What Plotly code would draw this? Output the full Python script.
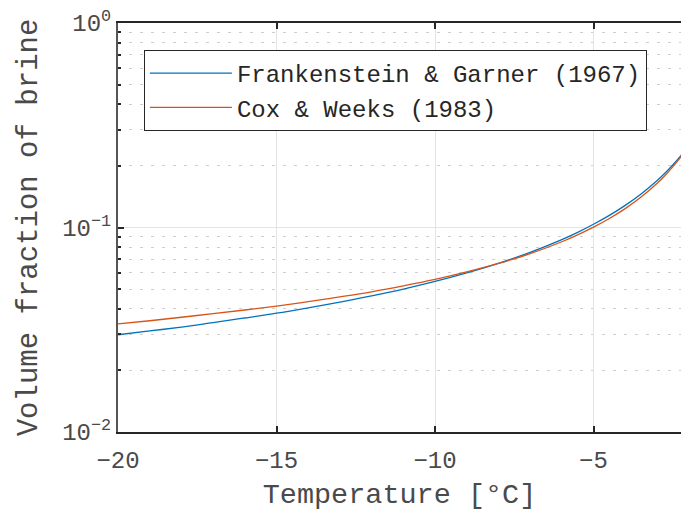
import plotly.graph_objects as go

# Temperature [°C]
temp = [-20, -19, -18, -17, -16, -15, -14, -13, -12, -11, -10, -9, -8, -7, -6,
        -5.5, -5, -4.5, -4, -3.5, -3, -2.75, -2.5, -2.25, -2]
# Frankenstein & Garner (1967)
fg = [0.0299, 0.0312, 0.0326, 0.0343, 0.0361, 0.0381, 0.0405, 0.0432, 0.0463,
      0.0500, 0.0545, 0.0600, 0.0668, 0.0756, 0.0873, 0.0947, 0.1037, 0.1146,
      0.1283, 0.1459, 0.1693, 0.1842, 0.2021, 0.2239, 0.2512]
# Cox & Weeks (1983)
cw = [0.0338, 0.0350, 0.0364, 0.0379, 0.0395, 0.0413, 0.0434, 0.0458, 0.0485,
      0.0518, 0.0557, 0.0606, 0.0667, 0.0745, 0.0852, 0.0921, 0.1004, 0.1107,
      0.1237, 0.1408, 0.1641, 0.1792, 0.1978, 0.2209, 0.2507]

xticks = [-20, -15, -10, -5]
xticklabels = ["−20", "−15", "−10", "−5"]
yticks = [0.01, 0.1, 1]
yticklabels = ["10<sup>−2</sup>", "10<sup>−1</sup>", "10<sup>0</sup>"]
yminor = [m * 10 ** e for e in (-2, -1) for m in range(2, 10)]

FONT = "Liberation Mono, Courier New, monospace"
DARK = "#262626"
TXT = "#4a4a4a"

fig = go.Figure()
fig.add_trace(go.Scatter(x=temp, y=fg, mode="lines", line=dict(color="#0072BD", width=1.3, shape="spline"),
                         name="Frankenstein & Garner (1967)"))
fig.add_trace(go.Scatter(x=temp, y=cw, mode="lines", line=dict(color="#D95319", width=1.3, shape="spline"),
                         name="Cox & Weeks (1983)"))

fig.update_layout(
    width=681, height=512,
    margin=dict(l=118, r=0, t=23, b=80),
    paper_bgcolor="white", plot_bgcolor="white",
    font=dict(family=FONT, color=DARK, size=24),
    showlegend=True,
    legend=dict(x=0.046, y=0.934, xanchor="left", yanchor="top",
                bordercolor=DARK, borderwidth=1, bgcolor="white",
                font=dict(family=FONT, size=24, color=DARK),
                itemwidth=82, tracegroupgap=0),
)
fig.update_xaxes(
    range=[-20, -2.24], tickmode="array", tickvals=xticks, ticktext=xticklabels,
    showgrid=True, gridcolor="#e3e3e3", gridwidth=1,
    showline=True, linecolor=DARK, linewidth=2, mirror="ticks",
    ticks="inside", ticklen=6, tickwidth=1.5, tickcolor=DARK,
    tickfont=dict(family=FONT, size=24, color=TXT), ticklabelstandoff=5,
    title=dict(text="Temperature [°C]", font=dict(family=FONT, size=28.5, color=TXT), standoff=12),
    zeroline=False,
)
fig.update_yaxes(
    type="log", range=[-2, 0], tickmode="array", tickvals=yticks, ticktext=yticklabels,
    showgrid=True, gridcolor="#e3e3e3", gridwidth=1,
    showline=True, linecolor="#555555", linewidth=2, mirror=False,
    ticks="inside", ticklen=6, tickwidth=1.5, tickcolor=DARK,
    tickfont=dict(family=FONT, size=24, color=TXT),
    minor=dict(tickmode="array", tickvals=yminor, showgrid=True, gridcolor="#cfcfcf",
               griddash="3px,8px", gridwidth=1, ticks="inside", ticklen=3, tickcolor=DARK),
    title=dict(text="Volume fraction of brine", font=dict(family=FONT, size=29, color=TXT), standoff=16),
    zeroline=False,
)

fig.write_html("out.html")
